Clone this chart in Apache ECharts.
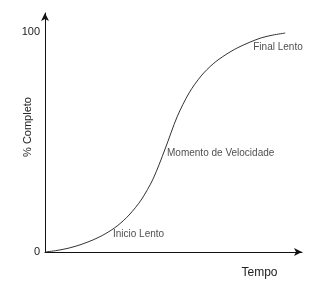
<!DOCTYPE html>
<html>
<head>
<meta charset="utf-8">
<script src="https://cdn.jsdelivr.net/npm/echarts@6/dist/echarts.min.js"></script>
<style>html,body{margin:0;padding:0;background:#fff}#c{width:323px;height:283px}</style>
</head>
<body>
<div id="c"></div>
<script>
// Curve data (time units, % completed)
const tempo = [0, 5, 10, 15, 20, 25, 30, 35, 40, 45, 50, 55, 60, 65, 70, 75, 80, 85, 90, 95, 100];
const completo = [0, 0.7, 1.8, 3.4, 5.5, 8.2, 11.8, 16.8, 23.6, 33.2, 46.8, 61.4, 72.3, 80, 85.5, 89.5, 92.7, 95.2, 97.3, 98.6, 99.5];
const yTicks = [0, 100];
const annotText = ['Inicio Lento', 'Momento de Velocidade', 'Final Lento'];
const annotX = [28.3, 50.8, 86.7];
const annotY = [8.2, 45, 93.2];

const chart = echarts.init(document.getElementById('c'), null, {renderer: 'canvas'});
const font = 'Liberation Sans, Arial, sans-serif';
chart.setOption({
  animation: false,
  grid: {left: 45, right: 21, top: 13, bottom: 31, containLabel: false, outerBoundsMode: 'none'},
  xAxis: {
    type: 'value', min: 0, max: 107,
    name: 'Tempo', nameLocation: 'middle', nameGap: 15, nameMoveOverlap: false,
    nameTextStyle: {fontFamily: font, fontSize: 12, color: '#222', padding: [0, 0, 0, 172]},
    axisLine: {show: true, lineStyle: {color: '#111', width: 1}, symbol: ['none', 'arrow'], symbolSize: [6, 8]},
    axisTick: {show: false}, axisLabel: {show: false}, splitLine: {show: false}
  },
  yAxis: {
    type: 'value', min: 0, max: 108.6,
    name: '% Completo', nameLocation: 'middle', nameGap: 12, nameRotate: 90, nameMoveOverlap: false,
    nameTextStyle: {fontFamily: font, fontSize: 11, color: '#222', padding: [0, 0, 0, 11]},
    axisLine: {show: true, lineStyle: {color: '#111', width: 1}, symbol: ['none', 'arrow'], symbolSize: [6, 8]},
    axisTick: {show: false},
    axisLabel: {show: true, customValues: yTicks, fontFamily: font, fontSize: 11, color: '#222', margin: 5},
    splitLine: {show: false}
  },
  series: [
    {
      type: 'line', smooth: 0.3, showSymbol: false,
      data: tempo.map((x, i) => [x, completo[i]]),
      lineStyle: {color: '#333', width: 1}
    },
    {
      type: 'scatter', symbolSize: 0, silent: true,
      data: annotText.map((t, i) => ({value: [annotX[i], annotY[i]], name: t})),
      label: {show: true, position: 'right', distance: 0, formatter: '{b}',
        fontFamily: font, fontSize: 10, color: '#222'}
    }
  ]
});
</script>
</body>
</html>
